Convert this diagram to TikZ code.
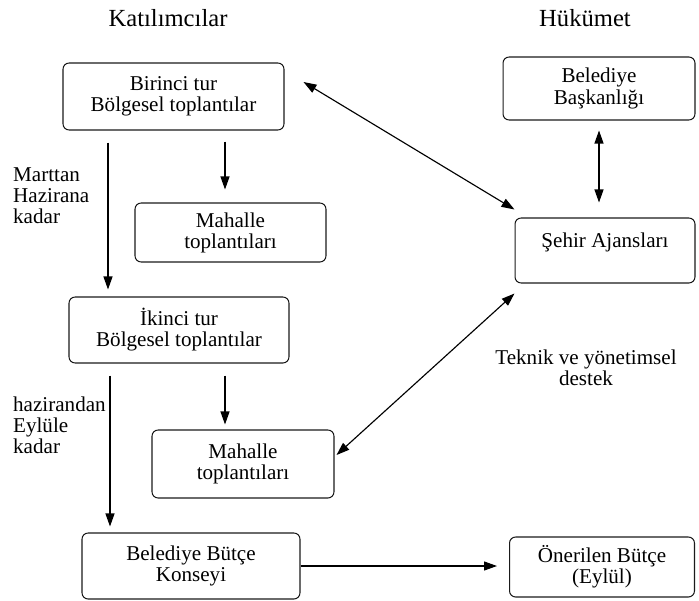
\documentclass[tikz,border=0pt]{standalone}
\usepackage{fontspec}
\setmainfont{Liberation Serif}
\usetikzlibrary{arrows.meta}
\definecolor{ink}{HTML}{1A1A1A}

\begin{document}
\begin{tikzpicture}[x=0.02cm, y=-0.02cm,
  box/.style={draw=ink, text=black, line width=0.6pt, rounded corners=3.5pt,
    align=center, font=\fontsize{12}{12}\selectfont, inner sep=2pt},
  flow/.style={draw=black, line width=0.65pt,
    -{Triangle[length=2.6mm, width=1.8mm]}},
  both/.style={flow, {Triangle[length=2.6mm, width=1.8mm]}-{Triangle[length=2.6mm, width=1.8mm]}},
  note/.style={text=black, font=\fontsize{12}{12}\selectfont},
  head/.style={text=black, font=\fontsize{14}{14}\selectfont},
]
\useasboundingbox (0,0) rectangle (699,601);

\node[head] (kat) at (168,18) {Katılımcılar};
\node[head] (huk) at (585,18) {Hükümet};

\node[box, minimum width=4.42cm, minimum height=1.34cm] (tur1)   at (173.5,96.5) {Birinci tur\\Bölgesel toplantılar};
\node[box, minimum width=3.82cm, minimum height=1.18cm] (mah1)   at (230.5,232.5) {Mahalle\\toplantıları};
\node[box, minimum width=4.40cm, minimum height=1.32cm] (tur2)   at (179,330) {İkinci tur\\Bölgesel toplantılar};
\node[box, minimum width=3.64cm, minimum height=1.36cm] (mah2)   at (243,464) {Mahalle\\toplantıları};
\node[box, minimum width=4.36cm, minimum height=1.32cm] (konsey) at (191,566) {Belediye Bütçe\\Konseyi};
\node[box, minimum width=3.70cm, minimum height=1.20cm] (butce)  at (602,567) {Önerilen Bütçe\\(Eylül)};
\node[box, minimum width=3.84cm, minimum height=1.26cm] (baskan) at (599,88.5) {Belediye\\Başkanlığı};
\node[box, minimum width=3.60cm, minimum height=1.30cm] (sehir)  at (605,250.5) {Şehir Ajansları\\\mbox{}};

\node[note, align=left, anchor=west]   (mart) at (7,196) {Marttan\\Hazirana\\kadar};
\node[note, align=left, anchor=west]   (haz)  at (7,425) {hazirandan\\Eylüle\\kadar};
\node[note, align=center]              (tek)  at (586,368) {Teknik ve yönetimsel\\destek};

% the tours run down the left, the city offices on the right
\draw[flow, shorten <=0.24cm, shorten >=0.14cm] (tur1.south -| 108,0) -- (tur2.north -| 108,0);
\draw[flow, shorten <=0.22cm, shorten >=0.26cm] (tur1.south -| 225,0) -- (mah1.north -| 225,0);
\draw[flow, shorten <=0.24cm, shorten >=0.10cm] (tur2.south -| 225,0) -- (mah2.north -| 225,0);
\draw[flow, shorten <=0.24cm, shorten >=0.12cm] (tur2.south -| 110,0) -- (konsey.north -| 110,0);
\draw[flow, shorten >=0.24cm] (konsey.east) -- (konsey.east -| butce.west);

\draw[both] ([xshift=0.38cm, yshift=0.29cm]tur1.east) -- ([yshift=0.16cm]sehir.north west);
\draw[both, shorten <=0.2cm, shorten >=0.3cm] (baskan.south) -- (baskan.south |- sehir.north);
\draw[both] ([yshift=-0.2cm]sehir.south west) -- ([xshift=0.04cm, yshift=0.18cm]mah2.east);
\end{tikzpicture}
\end{document}
